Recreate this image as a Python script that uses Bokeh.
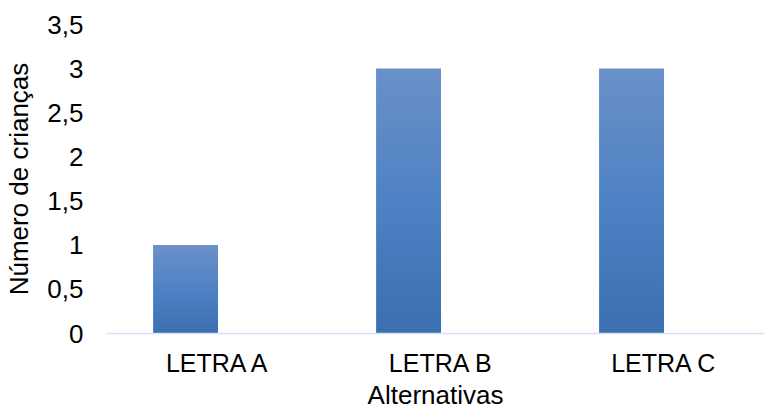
import numpy as np
from bokeh.plotting import figure
from bokeh.models import FixedTicker, CustomJSTickFormatter, Range1d
from bokeh.embed import file_html
from bokeh.resources import INLINE

# Survey answers: how many children picked each alternative
categories = ["LETRA A", "LETRA B", "LETRA C"]
counts = [1, 3, 3]
y_ticks = [0, 0.5, 1, 1.5, 2, 2.5, 3, 3.5]
x_title = "Alternativas"
y_title = "Número de crianças"

FONT = "Liberation Sans"

p = figure(
    width=764, height=412,
    output_backend="svg", toolbar_location=None,
    x_range=Range1d(-0.5, 2.451), y_range=Range1d(0, 3.5),
    min_border_left=106, min_border_right=0,
    min_border_top=24, min_border_bottom=79,
)
p.outline_line_color = None
p.xgrid.visible = False
p.ygrid.visible = False
p.background_fill_color = "white"
p.border_fill_color = "white"

# Bars sit in the left half of each category slot
xs = np.arange(len(categories))
bar_w = 0.29
left = xs - bar_w
right = xs + 0.0

# vertical gradient (light top -> darker bottom), one image per bar
top_rgb = np.array([0x6B, 0x91, 0xC8])
mid_rgb = np.array([0x4E, 0x82, 0xC4])
bot_rgb = np.array([0x3B, 0x6F, 0xB0])
n = 256
t = np.linspace(0.0, 1.0, n)[:, None]  # 0 = bottom row, 1 = top row
cols = np.where(t < 0.5,
                bot_rgb + (mid_rgb - bot_rgb) * (t / 0.5),
                mid_rgb + (top_rgb - mid_rgb) * ((t - 0.5) / 0.5))
grad = np.zeros((n, 1), dtype=np.uint32)
view = grad.view(dtype=np.uint8).reshape((n, 1, 4))
view[:, 0, 0] = cols[:, 0].round().astype(np.uint8)
view[:, 0, 1] = cols[:, 1].round().astype(np.uint8)
view[:, 0, 2] = cols[:, 2].round().astype(np.uint8)
view[:, 0, 3] = 255

p.quad(left=left, right=right, bottom=0, top=counts,
       fill_color="#4E82C4", line_color=None)
p.image_rgba(image=[grad] * len(counts), x=list(left), y=[0] * len(counts),
             dw=[bar_w] * len(counts), dh=counts)

# x axis: category names, light blue baseline, no ticks
xa = p.xaxis[0]
xa.ticker = FixedTicker(ticks=list(xs))
xa.major_label_overrides = {int(i): c for i, c in zip(xs, categories)}
xa.axis_line_color = "#D6E2F4"
xa.axis_line_width = 1.5
xa.major_tick_line_color = None
xa.minor_tick_line_color = None
xa.major_tick_out = 0
xa.major_tick_in = 0
xa.minor_tick_out = 0
xa.major_label_text_font = FONT
xa.major_label_text_font_size = "25px"
xa.major_label_text_color = "#000000"
xa.major_label_standoff = 15
xa.axis_label = x_title
xa.axis_label_text_font = FONT
xa.axis_label_text_font_size = "26px"
xa.axis_label_text_font_style = "normal"
xa.axis_label_text_color = "#000000"
xa.axis_label_standoff = 0

# y axis: decimal comma labels, no line or ticks
ya = p.yaxis[0]
ya.ticker = FixedTicker(ticks=y_ticks)
ya.formatter = CustomJSTickFormatter(code="return tick.toString().replace('.', ',');")
ya.axis_line_color = None
ya.major_tick_line_color = None
ya.minor_tick_line_color = None
ya.major_tick_out = 0
ya.major_tick_in = 0
ya.minor_tick_out = 0
ya.major_label_text_font = FONT
ya.major_label_text_font_size = "26px"
ya.major_label_text_color = "#000000"
ya.major_label_standoff = 23
ya.axis_label = y_title
ya.axis_label_text_font = FONT
ya.axis_label_text_font_size = "26px"
ya.axis_label_text_font_style = "normal"
ya.axis_label_text_color = "#000000"
ya.axis_label_standoff = 10

open("out.html", "w").write(file_html(p, INLINE))
